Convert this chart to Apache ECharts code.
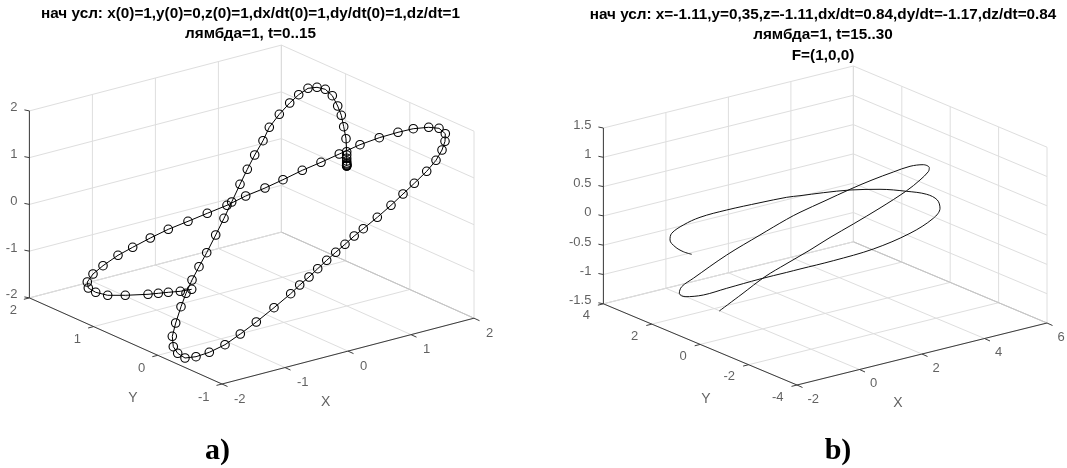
<!DOCTYPE html>
<html><head><meta charset="utf-8">
<style>html,body{margin:0;padding:0;background:#fff}#c{width:1067px;height:468px}</style>
<script src="https://cdn.jsdelivr.net/npm/echarts@6/dist/echarts.min.js"></script>
</head><body><div id="c"></div>
<script>
// Tick values
const xTicksA=[-2,-1,0,1,2], yTicksA=[-1,0,1,2], zTicksA=[-2,-1,0,1,2];
const xTicksB=[-2,0,2,4,6], yTicksB=[-4,-2,0,2,4], zTicksB=[-1.5,-1,-0.5,0,0.5,1,1.5];
// Titles
const titlesA=['нач усл: x(0)=1,y(0)=0,z(0)=1,dx/dt(0)=1,dy/dt(0)=1,dz/dt=1','лямбда=1, t=0..15'];
const titlesB=['нач усл: x=-1.11,y=0,35,z=-1.11,dx/dt=0.84,dy/dt=-1.17,dz/dt=0.84','лямбда=1, t=15..30','F=(1,0,0)'];
// Trajectories, as projected view coordinates
const curveA=[[346.7,166],[346.7,166],[346.7,165.5],[346.7,165],[346.7,164],[346.7,163],[346.7,161],[346.7,158.3],[346.7,155],[346.7,151.7],
[346,138.7],[343.7,126.7],[341.3,115.3],[337.7,106],[332.3,95.7],[325.3,89.3],[317,87.3],[308,88.3],[298.7,94.7],[289.7,103],[279.3,114.3],
[269.3,127.3],[263,140.7],[254.7,155],[247.3,169.3],[240,184.3],[231.7,202],[224,218.3],[215.7,235],[206.7,252.7],[199,266.7],[192,280],
[186,293.3],[181,306.7],[175.7,323],[172.3,336.3],[173.3,346.7],[177.7,353.3],[185,358],[196,356.7],[209.3,352.3],[225,344.7],[240.3,334],
[256.3,322],[274,307.7],[290.7,293.7],[299.7,285],[309,277],[317.7,268.7],[326.7,260.3],[335.7,252.3],[345,244.3],[354.2,236],[363.3,228.7],
[377.3,217.3],[391,205.3],[403,194],[414.3,183.3],[426.7,171.3],[436,160.3],[442,150],[445,141.3],[445.3,133.7],[439,128.3],[428.7,127.3],
[413.3,128.7],[398,132.3],[379.3,137.7],[360,144.7],[339.3,154],[321,162.3],[302.3,170.3],[283,179.7],[265,188],[245.7,196],[227,205.3],
[207.3,213.3],[188,221.3],[168.3,229.3],[150.3,238],[132.7,247.3],[118,255.3],[103,265.7],[93,274],[87.3,282],[88.3,288],[95.7,292.3],
[107.7,295.3],[125.3,295.3],[148,294.3],[158.3,293.3],[168.3,292.3],[180.3,291.3],[191.7,289.3]];
const curveB=[[719.3,311],[742,294],[765,276.7],[786,264],[810,250],[830,237.5],[853.3,224],[880,208],[906.7,190.7],[920,180],[928.3,171.7],[929.3,167.7],
[923.3,164.7],[910,166.3],[893.3,172],[872,180],[850,189.3],[825,200.8],[800,212.3],[786.7,219.3],[760,235],[726.7,255],[693.3,278.3],[681.7,286.7],
[679.3,293.3],[685,296.7],[703.3,295],[726.7,288.3],[760,279],[786.7,272.4],[800,269],[833.3,260.7],[873.3,249],[910,233.3],[933.3,218.3],[940,208.3],
[937.3,200],[926.7,194.3],[906.7,191.3],[880,189.3],[850,190],[823.3,192.7],[800,195.7],[786.7,197.3],[760,202.7],[726.7,210],[700,217.3],[683.3,225],
[671.7,233.3],[670,240],[675,246.7],[683.3,251.7],[691.7,254.3]];

// Projection of each panel's box onto the page
const viewA={o:[222,384],ex:[63,-16.45],ey:[-64.2,-28.7],ez:[0,-46.75],x0:-2,y0:-1,z0:-2};
const viewB={o:[797,385],ex:[31.25,-7.75],ey:[-24.2,-10.15],ez:[0,-58.6],x0:-2,y0:-4,z0:-1.5};
const gridCol='#dedede', edgeCol='#c4c4c4', axisCol='#3c3c3c', textCol='#3a3a3a';

function proj(v,X,Y,Z){const a=X-v.x0,b=Y-v.y0,c=Z-v.z0;
  return [v.o[0]+a*v.ex[0]+b*v.ey[0]+c*v.ez[0], v.o[1]+a*v.ex[1]+b*v.ey[1]+c*v.ez[1]];}
const series=[];
function seg(idx,p,q,color,w,z){series.push({type:'line',xAxisIndex:idx,yAxisIndex:idx,data:[p,q],showSymbol:false,silent:true,z:z,
  lineStyle:{color:color,width:w},animation:false});}
function labels(idx,items,align,size){series.push({type:'scatter',xAxisIndex:idx,yAxisIndex:idx,symbolSize:1,silent:true,z:6,animation:false,
  itemStyle:{color:'rgba(0,0,0,0)'},data:items.map(i=>({value:[i[0],i[1]],label:{formatter:i[2]}})),
  label:{show:true,position:'inside',align:align,verticalAlign:'middle',color:textCol,fontSize:size,fontFamily:'Liberation Sans'}});}

function panel(idx,v,xs,ys,zs,o){
  const xa=xs[0],xb=xs[xs.length-1],ya=ys[0],yb=ys[ys.length-1],za=zs[0],zb=zs[zs.length-1];
  xs.forEach(t=>{
    seg(idx,proj(v,t,ya,za),proj(v,t,yb,za),t===xb?edgeCol:gridCol,1,1);
    seg(idx,proj(v,t,yb,za),proj(v,t,yb,zb),t===xb?edgeCol:gridCol,1,1);});
  ys.forEach(t=>{
    seg(idx,proj(v,xa,t,za),proj(v,xb,t,za),t===yb?edgeCol:gridCol,1,1);
    seg(idx,proj(v,xb,t,za),proj(v,xb,t,zb),gridCol,1,1);});
  zs.forEach(t=>{
    seg(idx,proj(v,xa,yb,t),proj(v,xb,yb,t),gridCol,1,1);
    seg(idx,proj(v,xb,yb,t),proj(v,xb,ya,t),gridCol,1,1);});
  seg(idx,proj(v,xb,ya,za),proj(v,xb,yb,za),edgeCol,1,2);
  seg(idx,proj(v,xa,yb,za),proj(v,xa,yb,zb),axisCol,1,3);
  seg(idx,proj(v,xa,yb,za),proj(v,xa,ya,za),axisCol,1,3);
  seg(idx,proj(v,xa,ya,za),proj(v,xb,ya,za),axisCol,1,3);
  const sh=(p,d)=>[p[0]+d[0],p[1]+d[1]];
  zs.forEach(t=>{const p=proj(v,xa,yb,t);seg(idx,p,sh(p,[-5,-1]),axisCol,1,3);});
  ys.forEach(t=>{const p=proj(v,xa,t,za);seg(idx,p,sh(p,[-5.5,1.4]),axisCol,1,3);});
  xs.forEach(t=>{const p=proj(v,t,ya,za);seg(idx,p,sh(p,[5.5,2.5]),axisCol,1,3);});
  labels(idx,zs.map(t=>{const p=proj(v,xa,yb,t);return [p[0]+o.z[0],p[1]+o.z[1],String(t)];}),'right',13);
  labels(idx,ys.map(t=>{const p=proj(v,xa,t,za);return [p[0]+o.y[0],p[1]+o.y[1],String(t)];}),'right',13);
  labels(idx,xs.map(t=>{const p=proj(v,t,ya,za);return [p[0]+o.x[0],p[1]+o.x[1],String(t)];}),'left',13);
  labels(idx,[o.xName],'center',14);
  labels(idx,[o.yName],'center',14);
}
panel(0,viewA,xTicksA,yTicksA,zTicksA,{z:[-12,-3],y:[-12.5,13],x:[12,15],xName:[325.7,402,'X'],yName:[133,398,'Y']});
panel(1,viewB,xTicksB,yTicksB,zTicksB,{z:[-12,-3],y:[-13.5,12],x:[10.5,14],xName:[898,403,'X'],yName:[706,399,'Y']});

series.push({type:'line',xAxisIndex:0,yAxisIndex:0,data:curveA,z:5,animation:false,silent:true,symbol:'circle',symbolSize:8.5,showSymbol:true,showAllSymbol:true,
  lineStyle:{color:'#000',width:1},itemStyle:{color:'rgba(0,0,0,0)',borderColor:'#000',borderWidth:1.1}});
series.push({type:'line',xAxisIndex:1,yAxisIndex:1,data:curveB,z:5,animation:false,silent:true,showSymbol:false,smooth:0.35,
  lineStyle:{color:'#111',width:1}});

function T(text,cx,cy,size,family){return {text:text,left:cx,top:cy-size/2-1,textAlign:'center',padding:0,
  textStyle:{fontSize:size,fontWeight:'bold',fontFamily:family||'Liberation Sans',color:'#000',lineHeight:size+2}};}
const titles=[T(titlesA[0],250.5,13.5,15.3),T(titlesA[1],250.5,33.5,15.3),
  T(titlesB[0],823,14.5,15.3),T(titlesB[1],823,35,15.3),T(titlesB[2],823,55.5,15.3),
  T('a)',217.5,451,30,'Liberation Serif'),T('b)',838,451,30,'Liberation Serif')];
const ax=(g,a,b,inv)=>({type:'value',gridIndex:g,min:a,max:b,inverse:!!inv,show:false});
const chart=echarts.init(document.getElementById('c'),null,{renderer:'canvas'});
chart.setOption({animation:false,backgroundColor:'#fff',title:titles,
  grid:[{left:0,top:0,width:533,height:468},{left:533,top:0,width:534,height:468}],
  xAxis:[ax(0,0,533),ax(1,533,1067)],yAxis:[ax(0,0,468,true),ax(1,0,468,true)],series:series});
</script></body></html>
